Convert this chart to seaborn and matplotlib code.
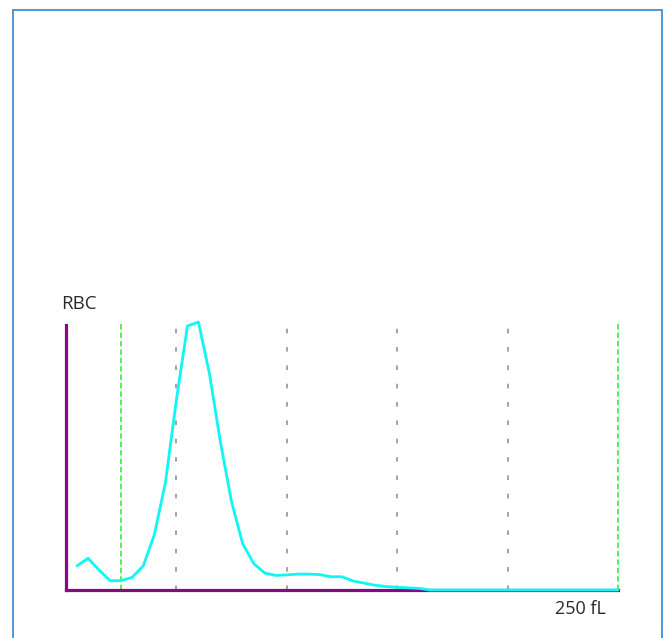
import matplotlib
matplotlib.use("Agg")
import matplotlib.pyplot as plt
import seaborn as sns
import pandas as pd
from matplotlib.patches import Rectangle

# RBC volume histogram (relative counts per 5 fL bin)
volume_fl = list(range(5, 255, 5))
rbc_counts = [9.1, 12.0, 7.5, 3.5, 3.5, 4.8, 9.1, 20.8, 40.4, 71.7,
              99.6, 101.1, 81.5, 55.5, 33.2, 17.5, 10.0, 6.4, 5.5, 5.7,
              6.0, 6.0, 5.8, 5.0, 5.0, 3.4, 2.6, 1.8, 1.3, 1.0,
              0.8, 0.6] + [0.0] * 18
grid_fl = [50, 100, 150, 200]
discriminators_fl = [25, 250]
y_label = "RBC"
x_label = "250 fL"

sns.set_theme(style="white")
plt.rcParams["font.family"] = ["Open Sans", "DejaVu Sans"]

W, H = 664, 638
fig = plt.figure(figsize=(W / 100, H / 100), dpi=100)
fig.patch.set_facecolor("white")

# blue panel frame (runs past the lower edge)
fig.patches.append(Rectangle((12.5 / W, -0.05), 649 / W, 1.05 - 10.5 / H,
                             transform=fig.transFigure, fill=False,
                             edgecolor="#3f8fd4", linewidth=1.3))

x0, x1, yb, yt = 66, 618, 590, 325
ax = fig.add_axes([x0 / W, (H - yb) / H, (x1 - x0) / W, (yb - yt) / H])
ax.set_xlim(0, 250)
ax.set_ylim(0, 100)

df = pd.DataFrame({"volume": volume_fl, "count": rbc_counts})

top = (yb - 321) / (yb - yt)
for g in grid_fl:
    ax.axvline(g, ymin=0, ymax=top, color="#8a8a8a", lw=1.1,
               linestyle=(0, (3, 9)), clip_on=False, zorder=1)
for d in discriminators_fl:
    ax.axvline(d, ymin=0, ymax=top, color="#22ee22", lw=1.1,
               linestyle=(0, (3.5, 2)), clip_on=False, zorder=1)

for s in ["top", "right"]:
    ax.spines[s].set_visible(False)
for s in ["left", "bottom"]:
    ax.spines[s].set_color("#850a85")
    ax.spines[s].set_linewidth(2.3)
    ax.spines[s].set_zorder(2)

sns.lineplot(data=df, x="volume", y="count", ax=ax, color="#10f5f5",
             linewidth=2.0, clip_on=False, zorder=3)

ax.set_xticks([])
ax.set_yticks([])
ax.set_xlabel("")
ax.set_ylabel("")

fig.text(61 / W, 1 - 304 / H, y_label, fontsize=13.5, color="#2a2a2a",
         ha="left", va="center")
fig.text(606 / W, 1 - 609 / H, x_label, fontsize=13, color="#2a2a2a",
         ha="right", va="center")

fig.savefig("out.png", dpi=100, facecolor="white")
